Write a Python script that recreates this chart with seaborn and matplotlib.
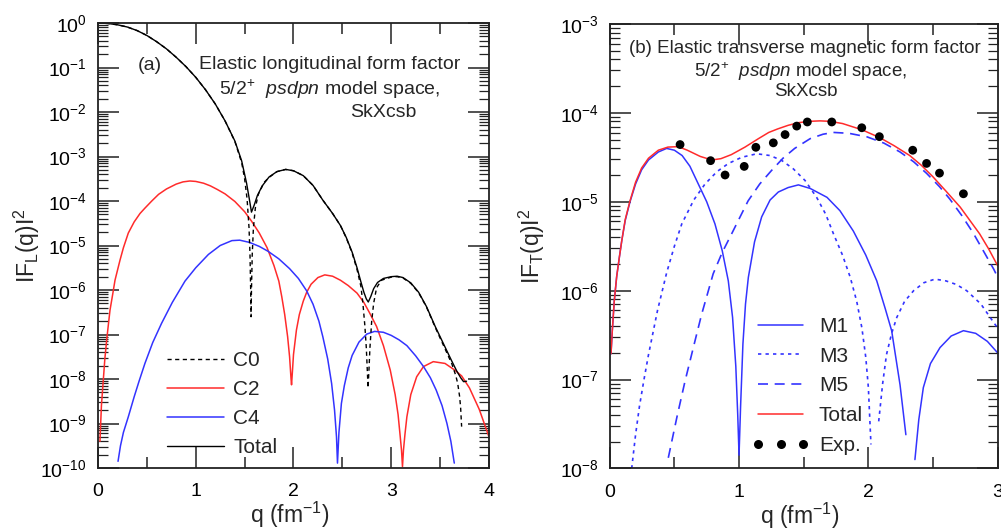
import numpy as np
import pandas as pd
import matplotlib
matplotlib.use("Agg")
import matplotlib.pyplot as plt
from matplotlib.lines import Line2D
from matplotlib.ticker import LogLocator, MultipleLocator, NullFormatter, FixedLocator
import seaborn as sns

# ---------------- data (values as log10 of |F|^2) ----------------
# Panel (a): longitudinal
q_total_L = [0.00, 0.10, 0.20, 0.30, 0.40, 0.50, 0.60, 0.70, 0.80, 0.90, 1.00, 1.10, 1.20, 1.30, 1.40,
             1.47, 1.52, 1.55, 1.57, 1.60, 1.63, 1.68, 1.75, 1.83, 1.92, 2.00, 2.10, 2.20, 2.30, 2.40,
             2.48, 2.54, 2.60, 2.65, 2.69, 2.72, 2.745, 2.765, 2.79, 2.82, 2.86, 2.92, 3.00, 3.06,
             3.12, 3.20, 3.28, 3.36, 3.45, 3.55, 3.62, 3.67, 3.71, 3.74, 3.77]
lg_total_L = [0.00, -0.01, -0.04, -0.09, -0.17, -0.28, -0.42, -0.58, -0.77, -0.98, -1.22, -1.50, -1.82,
              -2.20, -2.65, -3.10, -3.60, -3.98, -4.25, -4.08, -3.88, -3.66, -3.46, -3.34, -3.29, -3.32,
              -3.43, -3.65, -3.98, -4.28, -4.55, -4.82, -5.15, -5.50, -5.82, -6.05, -6.20, -6.27, -6.15,
              -5.97, -5.83, -5.74, -5.70, -5.69, -5.72, -5.84, -6.05, -6.37, -6.82, -7.28, -7.60, -7.82,
              -7.97, -8.06, -8.05]

q_C0 = [0.00, 0.10, 0.20, 0.30, 0.40, 0.50, 0.60, 0.70, 0.80, 0.90, 1.00, 1.10, 1.20, 1.30, 1.40,
        1.47, 1.50, 1.525, 1.545, 1.555, 1.562, 1.566, 1.570, 1.578, 1.59, 1.61, 1.64, 1.70, 1.75,
        1.83, 1.92, 2.00, 2.10, 2.20, 2.30, 2.40, 2.48, 2.54, 2.60, 2.65, 2.69, 2.71, 2.73, 2.745,
        2.755, 2.763, 2.772, 2.782, 2.80, 2.82, 2.85, 2.90, 3.00, 3.06, 3.12, 3.20, 3.28, 3.36, 3.45,
        3.55, 3.62, 3.66, 3.68, 3.70, 3.71, 3.72]
lg_C0 = [0.00, -0.01, -0.04, -0.09, -0.17, -0.28, -0.42, -0.58, -0.77, -0.98, -1.22, -1.50, -1.82,
         -2.20, -2.66, -3.14, -3.50, -3.95, -4.60, -5.20, -6.00, -6.60, -6.00, -5.20, -4.60, -4.15,
         -3.85, -3.58, -3.47, -3.34, -3.29, -3.32, -3.43, -3.65, -3.98, -4.28, -4.55, -4.83, -5.17,
         -5.54, -5.92, -6.30, -6.80, -7.30, -7.80, -8.20, -7.80, -7.30, -6.70, -6.30, -5.95, -5.78,
         -5.71, -5.70, -5.73, -5.85, -6.06, -6.38, -6.84, -7.32, -7.66, -7.92, -8.10, -8.40, -8.65, -9.07]

q_C2 = [0.02, 0.035, 0.055, 0.07, 0.089, 0.105, 0.123, 0.15, 0.174, 0.20, 0.225, 0.26, 0.31, 0.37,
        0.43, 0.48, 0.55, 0.62, 0.70, 0.80, 0.87, 0.94, 1.00, 1.08, 1.15, 1.22, 1.30, 1.40, 1.50,
        1.57, 1.65, 1.73, 1.80, 1.85, 1.88, 1.91, 1.94, 1.96, 1.975, 1.98, 1.99, 2.00, 2.03, 2.06,
        2.10, 2.135, 2.18, 2.25, 2.32, 2.40, 2.48, 2.56, 2.65, 2.72, 2.78, 2.85, 2.92, 2.99, 3.04,
        3.07, 3.09, 3.105, 3.115, 3.125, 3.14, 3.16, 3.20, 3.26, 3.33, 3.43, 3.55, 3.65, 3.72, 3.80,
        3.90, 4.00]
lg_C2 = [-9.40, -8.60, -8.00, -7.55, -7.12, -6.80, -6.45, -6.10, -5.78, -5.55, -5.33, -5.05, -4.72,
         -4.47, -4.28, -4.16, -4.00, -3.85, -3.73, -3.62, -3.57, -3.55, -3.56, -3.60, -3.66, -3.74,
         -3.84, -4.01, -4.24, -4.45, -4.72, -5.05, -5.45, -5.80, -6.15, -6.55, -7.05, -7.50, -8.00,
         -8.13, -7.80, -7.45, -6.90, -6.55, -6.25, -6.05, -5.87, -5.72, -5.66, -5.69, -5.78, -5.90,
         -6.07, -6.28, -6.52, -6.82, -7.25, -7.80, -8.35, -8.80, -9.25, -9.60, -9.97, -9.60, -9.25,
         -8.85, -8.35, -7.95, -7.72, -7.61, -7.65, -7.80, -7.93, -8.20, -8.68, -9.30]

q_C4 = [0.205, 0.23, 0.26, 0.31, 0.37, 0.42, 0.48, 0.56, 0.65, 0.76, 0.89, 1.00, 1.13, 1.25, 1.37,
        1.45, 1.55, 1.65, 1.74, 1.85, 1.96, 2.05, 2.135, 2.20, 2.26, 2.30, 2.35, 2.39, 2.42, 2.44,
        2.45, 2.465, 2.49, 2.52, 2.56, 2.60, 2.67, 2.75, 2.83, 2.92, 3.00, 3.08, 3.16, 3.25, 3.33,
        3.40, 3.46, 3.52, 3.57, 3.61, 3.645]
lg_C4 = [-9.85, -9.50, -9.20, -8.85, -8.40, -8.05, -7.65, -7.18, -6.75, -6.28, -5.80, -5.50, -5.20,
         -5.00, -4.89, -4.88, -4.93, -5.02, -5.13, -5.30, -5.52, -5.74, -6.02, -6.32, -6.70, -7.05,
         -7.55, -8.10, -8.70, -9.30, -9.89, -9.20, -8.55, -8.15, -7.75, -7.47, -7.17, -6.99, -6.93,
         -6.95, -7.02, -7.12, -7.25, -7.48, -7.72, -7.97, -8.25, -8.60, -9.00, -9.40, -9.89]

# Panel (b): transverse magnetic
q_total_T = [0.01, 0.02, 0.035, 0.054, 0.075, 0.093, 0.12, 0.157, 0.20, 0.247, 0.30, 0.376, 0.45,
             0.53, 0.60, 0.70, 0.79, 0.86, 0.94, 1.046, 1.15, 1.23, 1.30, 1.38, 1.46, 1.55, 1.626,
             1.70, 1.80, 1.95, 2.09, 2.20, 2.32, 2.41, 2.50, 2.60, 2.71, 2.80, 2.86, 2.93, 3.00]
lg_total_T = [-6.71, -6.45, -6.12, -5.84, -5.62, -5.44, -5.20, -4.99, -4.78, -4.62, -4.51, -4.42,
              -4.385, -4.38, -4.42, -4.49, -4.53, -4.515, -4.47, -4.385, -4.29, -4.22, -4.18, -4.14,
              -4.11, -4.095, -4.09, -4.095, -4.12, -4.19, -4.28, -4.37, -4.48, -4.59, -4.72, -4.88,
              -5.06, -5.24, -5.36, -5.53, -5.72]

q_M1_a = [0.01, 0.02, 0.035, 0.054, 0.075, 0.093, 0.12, 0.157, 0.20, 0.247, 0.30, 0.376, 0.44, 0.50,
          0.56, 0.62, 0.685, 0.75, 0.814, 0.87, 0.917, 0.95, 0.975, 0.99, 1.00, 1.012, 1.03, 1.05,
          1.072, 1.12, 1.175, 1.24, 1.304, 1.38, 1.459, 1.55, 1.68, 1.78, 1.884, 1.98, 2.065, 2.13,
          2.18, 2.245, 2.29]
lg_M1_a = [-6.71, -6.45, -6.12, -5.84, -5.62, -5.44, -5.21, -5.00, -4.80, -4.64, -4.53, -4.44, -4.40,
           -4.42, -4.48, -4.60, -4.80, -5.00, -5.25, -5.55, -5.89, -6.30, -6.85, -7.40, -7.85, -7.30,
           -6.60, -6.15, -5.85, -5.45, -5.17, -4.98, -4.89, -4.84, -4.81, -4.85, -4.95, -5.10, -5.33,
           -5.60, -5.89, -6.20, -6.45, -7.06, -7.62]
q_M1_b = [2.36, 2.39, 2.425, 2.48, 2.554, 2.64, 2.735, 2.83, 2.92, 3.00]
lg_M1_b = [-7.90, -7.45, -7.09, -6.82, -6.64, -6.51, -6.45, -6.48, -6.57, -6.70]

q_M3_a = [0.17, 0.20, 0.23, 0.265, 0.30, 0.37, 0.44, 0.50, 0.557, 0.65, 0.737, 0.83, 0.917, 1.02,
          1.137, 1.24, 1.33, 1.42, 1.51, 1.60, 1.67, 1.73, 1.80, 1.86, 1.91, 1.95, 1.98, 2.00, 2.02]
lg_M3_a = [-8.00, -7.62, -7.30, -7.00, -6.72, -6.22, -5.80, -5.50, -5.25, -4.98, -4.80, -4.66, -4.57,
           -4.50, -4.46, -4.48, -4.535, -4.63, -4.76, -4.95, -5.14, -5.36, -5.60, -5.85, -6.12, -6.42,
           -6.75, -7.09, -7.73]
q_M3_b = [2.08, 2.11, 2.14, 2.18, 2.22, 2.28, 2.35, 2.43, 2.515, 2.60, 2.68, 2.76, 2.87, 2.97, 3.00]
lg_M3_b = [-7.47, -7.05, -6.72, -6.48, -6.30, -6.12, -6.00, -5.91, -5.87, -5.89, -5.93, -6.00, -6.15,
           -6.36, -6.42]

q_M5 = [0.453, 0.52, 0.582, 0.65, 0.71, 0.80, 0.87, 0.943, 1.07, 1.16, 1.25, 1.34, 1.43, 1.55, 1.65,
        1.73, 1.85, 1.99, 2.12, 2.245, 2.35, 2.45, 2.55, 2.63, 2.72, 2.81, 2.90, 2.97, 3.00]
lg_M5 = [-7.88, -7.42, -7.02, -6.62, -6.27, -5.81, -5.57, -5.36, -4.99, -4.80, -4.65, -4.51, -4.40,
         -4.29, -4.24, -4.22, -4.23, -4.27, -4.34, -4.44, -4.55, -4.68, -4.83, -4.97, -5.15, -5.35,
         -5.58, -5.76, -5.85]

q_exp = [0.544, 0.78, 0.892, 1.04, 1.13, 1.265, 1.356, 1.446, 1.528, 1.717, 1.949, 2.085, 2.343,
         2.45, 2.55, 2.735]
F_exp = [4.4e-5, 2.9e-5, 2.0e-5, 2.5e-5, 4.1e-5, 4.6e-5, 5.7e-5, 7.1e-5, 7.9e-5, 7.9e-5, 6.8e-5,
         5.4e-5, 3.8e-5, 2.7e-5, 2.1e-5, 1.23e-5]

xticks_a = [0, 1, 2, 3, 4]
xticks_b = [0, 1, 2, 3]

# ---------------- style ----------------
sns.set_theme(style="ticks")
plt.rcParams["font.family"] = ["Liberation Sans", "DejaVu Sans"]
plt.rcParams["mathtext.fontset"] = "custom"
plt.rcParams["mathtext.rm"] = "Liberation Sans"
plt.rcParams["mathtext.it"] = "Liberation Sans:italic"
plt.rcParams["mathtext.bf"] = "Liberation Sans:bold"

RED = "#ff2b2b"
BLUE = "#3333ff"
AXC = "#222222"
FS = 14
LFS = 16.5

fig = plt.figure(figsize=(10.01, 5.29), dpi=100)
axA = fig.add_axes([0.0979, 0.1153, 0.3906, 0.8412])
axB = fig.add_axes([0.6091, 0.1144, 0.3876, 0.8403])


def line(ax, q, lg, **kw):
    df = pd.DataFrame({"q": q, "F": 10.0 ** np.asarray(lg, dtype=float)})
    sns.lineplot(data=df, x="q", y="F", ax=ax, sort=False, estimator=None, legend=False, **kw)


# panel (a)
line(axA, q_C2, lg_C2, color=RED, lw=1.1)
line(axA, q_C4, lg_C4, color=BLUE, lw=1.1)
line(axA, q_total_L, lg_total_L, color="black", lw=1.0)
line(axA, q_C0, lg_C0, color="black", lw=1.0, linestyle=(0, (3, 2.5)))

# panel (b)
line(axB, q_M5, lg_M5, color=BLUE, lw=1.2, linestyle=(0, (6, 4)))
line(axB, q_M3_a, lg_M3_a, color=BLUE, lw=1.2, linestyle=(0, (2, 2.5)))
line(axB, q_M3_b, lg_M3_b, color=BLUE, lw=1.2, linestyle=(0, (2, 2.5)))
line(axB, q_M1_a, lg_M1_a, color=BLUE, lw=1.1)
line(axB, q_M1_b, lg_M1_b, color=BLUE, lw=1.1)
line(axB, q_total_T, lg_total_T, color=RED, lw=1.1)
sns.scatterplot(x=q_exp, y=F_exp, ax=axB, color="black", s=40, edgecolor="none", zorder=5, legend=False)

for ax, xmax, ylo, yhi, xt in [(axA, 4, 1e-10, 1, xticks_a), (axB, 3, 1e-8, 1e-3, xticks_b)]:
    ax.set_yscale("log")
    ax.set_xlim(0, xmax)
    ax.set_ylim(ylo, yhi)
    ax.xaxis.set_major_locator(FixedLocator(xt))
    ax.xaxis.set_minor_locator(MultipleLocator(0.5))
    ax.yaxis.set_major_locator(LogLocator(base=10, numticks=20))
    ax.yaxis.set_minor_locator(LogLocator(base=10, subs=np.arange(2, 10), numticks=200))
    ax.yaxis.set_minor_formatter(NullFormatter())
    ax.tick_params(which="both", direction="in", top=True, right=True, colors=AXC,
                   labelcolor="black", labelsize=FS)
    ax.tick_params(axis="y", which="major", length=15, width=1.1, pad=8)
    ax.tick_params(axis="y", which="minor", length=7.5, width=0.9)
    ax.tick_params(axis="x", which="major", length=15, width=1.1, pad=11)
    ax.tick_params(axis="x", which="minor", length=8, width=1.1)
    for sp in ax.spines.values():
        sp.set_linewidth(1.3)
        sp.set_color(AXC)
    ax.set_xlabel("q (fm$^{-1}$)", fontsize=LFS)
    ax.xaxis.set_label_coords(0.49, -0.072)

axA.set_ylabel("IF$_\\mathregular{L}$(q)I$^2$", fontsize=LFS)
axB.set_ylabel("IF$_\\mathregular{T}$(q)I$^2$", fontsize=LFS)
axA.yaxis.set_label_coords(-0.143, 0.5)
axB.yaxis.set_label_coords(-0.162, 0.5)

# annotations
axA.text(0.133, 0.905, "(a)", transform=axA.transAxes, ha="center", va="center", fontsize=FS)
axA.text(0.593, 0.906, "Elastic longitudinal form factor", transform=axA.transAxes,
         ha="center", va="center", fontsize=FS)
axA.text(0.593, 0.852, "5/2$^{+}$  $\\mathit{psdpn}$ model space,", transform=axA.transAxes,
         ha="center", va="center", fontsize=FS)
axA.text(0.729, 0.800, "SkXcsb", transform=axA.transAxes, ha="center", va="center", fontsize=FS)

axB.text(0.503, 0.944, "(b) Elastic transverse magnetic form factor", transform=axB.transAxes,
         ha="center", va="center", fontsize=13.5)
axB.text(0.491, 0.892, "5/2$^{+}$  $\\mathit{psdpn}$ model space,", transform=axB.transAxes,
         ha="center", va="center", fontsize=13.5)
axB.text(0.506, 0.847, "SkXcsb", transform=axB.transAxes, ha="center", va="center", fontsize=13.5)

# legends
hA = [Line2D([], [], color="black", lw=1.0, linestyle=(0, (3, 2.5))),
      Line2D([], [], color=RED, lw=1.1),
      Line2D([], [], color=BLUE, lw=1.1),
      Line2D([], [], color="black", lw=1.0)]
axA.legend(hA, ["C0", "C2", "C4", "Total"], loc="lower left", bbox_to_anchor=(0.176, 0.025),
           frameon=False, fontsize=FS + 1, handlelength=2.75, handletextpad=0.45,
           borderpad=0, borderaxespad=0, labelspacing=0.48)

hB = [Line2D([], [], color=BLUE, lw=1.1),
      Line2D([], [], color=BLUE, lw=1.2, linestyle=(0, (2, 2.5))),
      Line2D([], [], color=BLUE, lw=1.2, linestyle=(0, (6, 4))),
      Line2D([], [], color=RED, lw=1.1),
      Line2D([], [], color="black", linestyle="none", marker="o", markersize=6.5, markeredgewidth=0)]
axB.legend(hB, ["M1", "M3", "M5", "Total", "Exp."], loc="lower left", bbox_to_anchor=(0.367, 0.03),
           frameon=False, fontsize=FS + 1, handlelength=2.75, handletextpad=0.45, numpoints=3,
           borderpad=0, borderaxespad=0, labelspacing=0.52)

fig.savefig("out.png", dpi=100)
